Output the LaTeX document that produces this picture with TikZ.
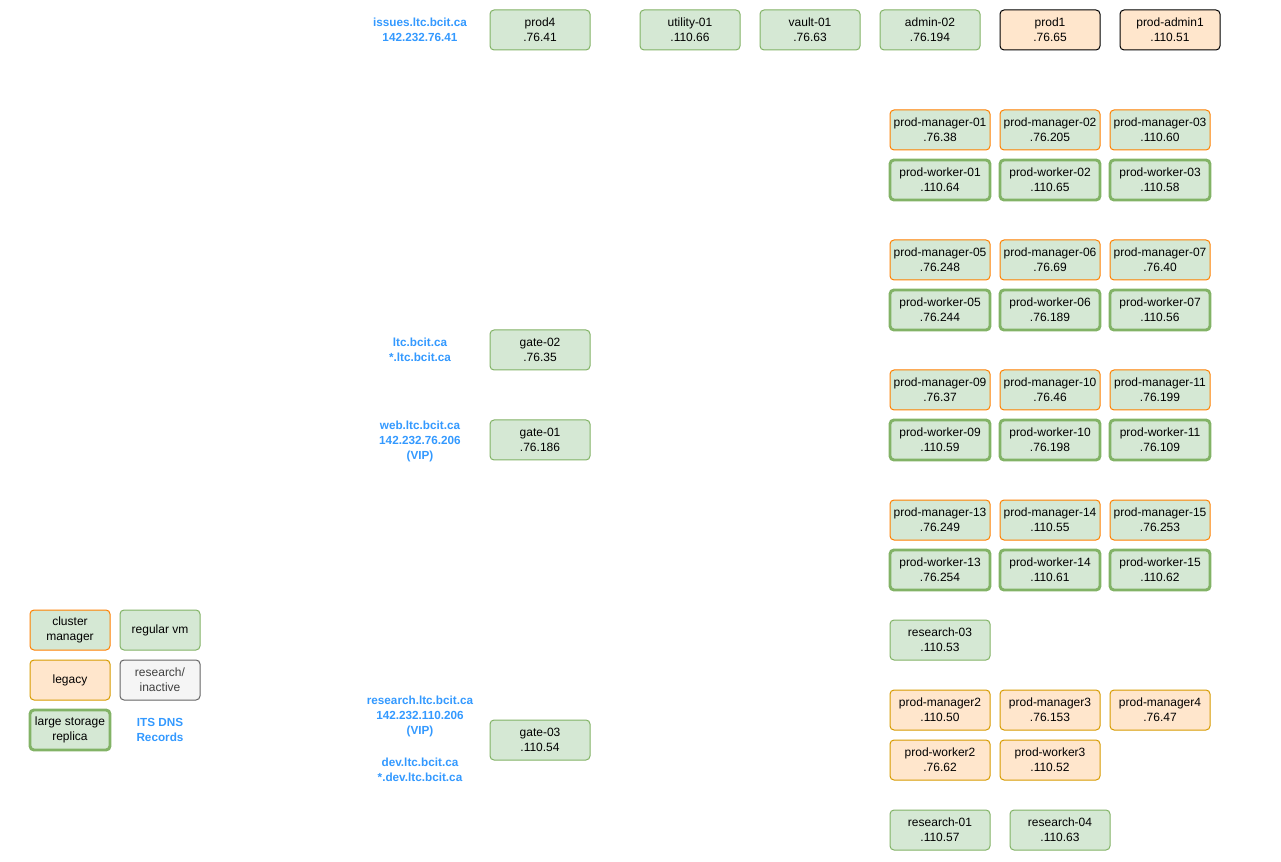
\documentclass[tikz,border=0pt]{standalone}
\usepackage{fontspec}
\setmainfont{Liberation Sans}
\definecolor{gfill}{HTML}{D5E8D4}
\definecolor{gline}{HTML}{82B366}
\definecolor{ofill}{HTML}{FFE6CC}
\definecolor{oline}{HTML}{D79B00}
\definecolor{mline}{HTML}{FF8000}
\definecolor{rfill}{HTML}{F5F5F5}
\definecolor{rline}{HTML}{666666}
\definecolor{dns}{HTML}{3399FF}
\tikzset{
  px/.style={x=0.75pt,y=-0.75pt},
  box/.style={rectangle,rounded corners=3pt,minimum width=75pt,minimum height=30pt,inner sep=0pt,align=center,font=\fontsize{9}{11.25}\selectfont,anchor=center},
  vm/.style={box,fill=gfill,draw=gline,line width=0.75pt},
  mgr/.style={box,fill=gfill,draw=mline,line width=0.75pt},
  wrk/.style={box,fill=gfill,draw=gline,line width=2.2pt},
  leg/.style={box,fill=ofill,draw=oline,line width=0.75pt},
  legk/.style={box,fill=ofill,draw=black,line width=0.75pt},
  res/.style={box,fill=rfill,draw=rline,line width=0.75pt,text=black!75},
  dnsl/.style={align=center,text=dns,font=\fontsize{8.8}{11.25}\selectfont\bfseries,inner sep=0pt},
  sbox/.style={minimum width=60pt}
}
\begin{document}
\begin{tikzpicture}[px]
\useasboundingbox (0,0) rectangle (1281,862);
% top row
\node[vm] (prod4) at (540,30) {prod4\\.76.41};
\node[vm] (util) at (690,30) {utility-01\\.110.66};
\node[vm] (vault) at (810,30) {vault-01\\.76.63};
\node[vm] (admin) at (930,30) {admin-02\\.76.194};
\node[legk] (prod1) at (1050,30) {prod1\\.76.65};
\node[legk] (padmin) at (1170,30) {prod-admin1\\.110.51};
% cluster grid
\foreach \y/\a/\b/\c/\d/\e/\f/\ma/\mb/\mc/\wa/\wb/\wc in {
  130/01/02/03/01/02/03/.76.38/.76.205/.110.60/.110.64/.110.65/.110.58,
  260/05/06/07/05/06/07/.76.248/.76.69/.76.40/.76.244/.76.189/.110.56,
  390/09/10/11/09/10/11/.76.37/.76.46/.76.199/.110.59/.76.198/.76.109,
  520/13/14/15/13/14/15/.76.249/.110.55/.76.253/.76.254/.110.61/.110.62}{
  \node[mgr] (m\a) at (940,\y) {prod-manager-\a\\\ma};
  \node[mgr] (m\b) at (1050,\y) {prod-manager-\b\\\mb};
  \node[mgr] (m\c) at (1160,\y) {prod-manager-\c\\\mc};
  \node[wrk] (w\d) at (940,\y+50) {prod-worker-\d\\\wa};
  \node[wrk] (w\e) at (1050,\y+50) {prod-worker-\e\\\wb};
  \node[wrk] (w\f) at (1160,\y+50) {prod-worker-\f\\\wc};
}
\node[vm] (r03) at (940,640) {research-03\\.110.53};
\node[leg] (pm2) at (940,710) {prod-manager2\\.110.50};
\node[leg] (pm3) at (1050,710) {prod-manager3\\.76.153};
\node[leg] (pm4) at (1160,710) {prod-manager4\\.76.47};
\node[leg] (pw2) at (940,760) {prod-worker2\\.76.62};
\node[leg] (pw3) at (1050,760) {prod-worker3\\.110.52};
\node[vm] (r01) at (940,830) {research-01\\.110.57};
\node[vm] (r04) at (1060,830) {research-04\\.110.63};
% gates
\node[vm] (gate2) at (540,350) {gate-02\\.76.35};
\node[vm] (gate1) at (540,440) {gate-01\\.76.186};
\node[vm] (gate3) at (540,740) {gate-03\\.110.54};
% dns labels
\node[dnsl] (dIssues) at (420,30) {issues.ltc.bcit.ca\\142.232.76.41};
\node[dnsl] (dLtc) at (420,350) {ltc.bcit.ca\\*.ltc.bcit.ca};
\node[dnsl] (dWeb) at (420,441) {web.ltc.bcit.ca\\142.232.76.206\\(VIP)};
\node[dnsl] (dRes) at (420,739) {research.ltc.bcit.ca\\142.232.110.206\\(VIP)\\[12.75pt]dev.ltc.bcit.ca\\*.dev.ltc.bcit.ca};
% legend
\node[mgr,sbox] (lgM) at (70,630) {cluster\\manager};
\node[vm,sbox] (lgV) at (160,630) {regular vm};
\node[leg,sbox] (lgL) at (70,680) {legacy};
\node[res,sbox] (lgR) at (160,680) {research/\\inactive};
\node[wrk,sbox] (lgW) at (70,730) {large storage\\replica};
\node[dnsl] (lgD) at (160,730) {ITS DNS\\Records};
\end{tikzpicture}
\end{document}
